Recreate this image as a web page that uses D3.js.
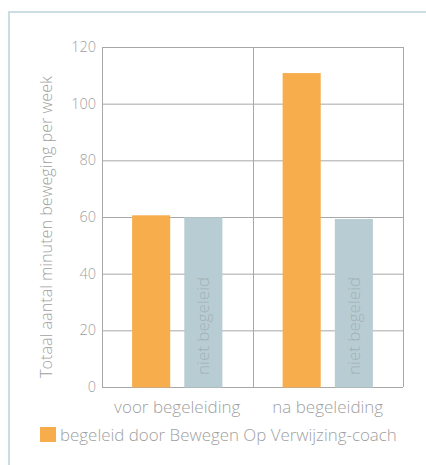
<!DOCTYPE html>
<html><head><meta charset="utf-8">
<script src="https://cdn.jsdelivr.net/npm/d3@7"></script>
<style>body{margin:0;background:#fff}svg{display:block}text{font-family:"Open Sans",Lato,sans-serif;font-weight:300}</style>
</head><body><svg id="c" width="426" height="465"></svg>
<script>
const categories = ["voor begeleiding", "na begeleiding"];
const seriesNames = ["begeleid door Bewegen Op Verwijzing-coach", "niet begeleid"];
const begeleid = [60.6, 110.8];
const nietBegeleid = [59.9, 59.3];
const yTicks = [0, 20, 40, 60, 80, 100, 120];
const yTitle = "Totaal aantal minuten beweging per week";

const svg = d3.select("#c");
const m = {l: 102, r: 403, t: 47, b: 387};
const colors = ["#F7AD4B", "#B8CDD3"];
const txt = "#9f9f9f";

// frame
svg.append("path").attr("d","M9,465 V12 H426").attr("fill","none").attr("stroke","#c9dde3").attr("stroke-width",2);

const x0 = d3.scaleBand().domain(categories).range([m.l, m.r]);
const x1 = d3.scaleBand().domain([0,1]).range([0, x0.bandwidth()]).paddingInner(0.27).paddingOuter(0.577);
const y = d3.scaleLinear().domain([0,120]).range([m.b, m.t]);

// grid
svg.append("g").selectAll("line").data(yTicks).join("line")
  .attr("x1", m.l).attr("x2", m.r).attr("y1", d=>y(d)+0.5).attr("y2", d=>y(d)+0.5)
  .attr("stroke", "#a8a8a8").attr("stroke-width", 1);
const vx = [m.l, ...categories.slice(1).map(c=>x0(c)), m.r];
svg.append("g").selectAll("line").data(vx).join("line")
  .attr("x1", d=>Math.round(d)+0.5).attr("x2", d=>Math.round(d)+0.5).attr("y1", m.t).attr("y2", m.b)
  .attr("stroke", "#a8a8a8").attr("stroke-width", 1);

// bars
const data = categories.map((c,i)=>({c, vals:[begeleid[i], nietBegeleid[i]]}));
const g = svg.append("g").selectAll("g").data(data).join("g").attr("transform", d=>`translate(${x0(d.c)},0)`);
g.selectAll("rect").data(d=>d.vals.map((v,k)=>({v,k}))).join("rect")
  .attr("x", d=>x1(d.k)).attr("width", x1.bandwidth())
  .attr("y", d=>y(d.v)).attr("height", d=>y(0)-y(d.v)+0.5)
  .attr("fill", d=>colors[d.k]);
g.append("text")
  .attr("transform", d=>`translate(${x1(1)+x1.bandwidth()/2+6},${y(0)-12}) rotate(-90)`)
  .attr("font-size", 17).attr("fill", "#a2b1b6").text(seriesNames[1]);

// y ticks
svg.append("g").selectAll("text").data(yTicks).join("text")
  .attr("x", m.l-6).attr("y", d=>y(d)+5).attr("text-anchor","end")
  .attr("font-size", 14.5).attr("fill", txt).text(d=>d);

// y title
svg.append("text").attr("transform", `translate(52,${(m.t+m.b)/2+10}) rotate(-90)`)
  .attr("text-anchor","middle").attr("font-size", 16.2).attr("fill", txt).text(yTitle);

// x labels
svg.append("g").selectAll("text").data(categories).join("text")
  .attr("x", d=>x0(d)+x0.bandwidth()/2).attr("y", 413).attr("text-anchor","middle")
  .attr("font-size", 17).attr("fill", txt).text(d=>d);

// legend
svg.append("rect").attr("x", 40).attr("y", 427).attr("width", 16).attr("height", 15).attr("fill", colors[0]);
svg.append("text").attr("x", 60).attr("y", 441).attr("font-size", 16.9).attr("fill", txt).text(seriesNames[0]);
</script></body></html>
